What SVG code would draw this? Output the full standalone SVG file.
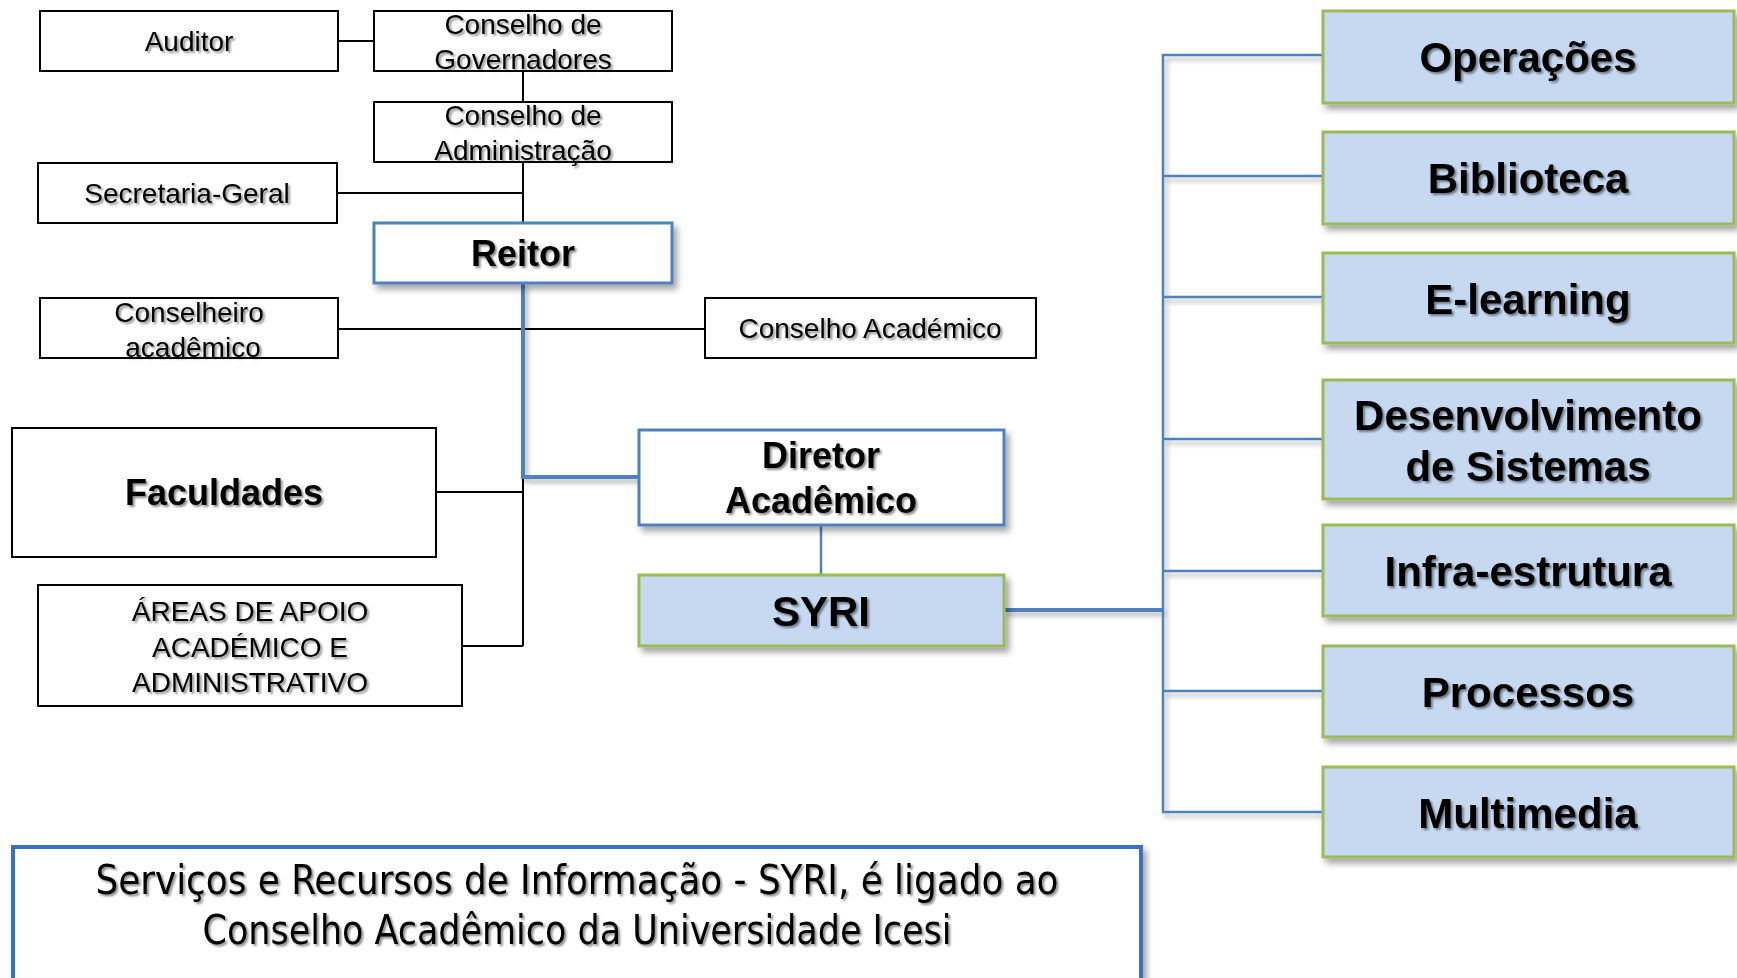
<svg xmlns="http://www.w3.org/2000/svg" width="1737" height="978" viewBox="0 0 1737 978">
<defs>
<filter id="ts" x="-10%" y="-30%" width="130%" height="170%"><feDropShadow dx="2" dy="2" stdDeviation="1.2" flood-color="#000" flood-opacity="0.45"/></filter>
<filter id="bs" x="-10%" y="-20%" width="130%" height="150%"><feDropShadow dx="4" dy="5" stdDeviation="3" flood-color="#000" flood-opacity="0.35"/></filter>
<filter id="ls" x="-5%" y="-50%" width="120%" height="300%"><feDropShadow dx="3" dy="4" stdDeviation="2.5" flood-color="#000" flood-opacity="0.3"/></filter>
</defs>
<style>
.bx{fill:#fff;stroke:#000;stroke-width:2}
.bb{fill:#fff;stroke:#4f81bd;stroke-width:3}
.gb{fill:#c6d9f1;stroke:#9bbb59;stroke-width:3}
.t{font-family:"Liberation Sans Narrow","Liberation Sans",Arial,sans-serif;font-size:28px;fill:#000;text-anchor:middle}
.tb{font-family:"Liberation Sans Narrow","Liberation Sans",Arial,sans-serif;font-weight:bold;font-size:36px;fill:#000;text-anchor:middle}
.tr{font-family:"Liberation Sans Narrow","Liberation Sans",Arial,sans-serif;font-weight:bold;font-size:42px;fill:#000;text-anchor:middle}
.bl{stroke:#000;stroke-width:2;fill:none}
.blu{stroke:#4f81bd;stroke-width:2.5;fill:none}
.note{font-family:"DejaVu Sans Condensed","DejaVu Sans",Tahoma,sans-serif;font-size:40px;fill:#000;text-anchor:middle}
</style>
<g id="connectors">
<line class="bl" x1="338" y1="41" x2="374" y2="41"/>
<line class="bl" x1="523" y1="71" x2="523" y2="223"/>
<line class="bl" x1="337" y1="193" x2="523" y2="193"/>
<line class="bl" x1="338" y1="329" x2="705" y2="329"/>
<line class="bl" x1="436" y1="492" x2="523" y2="492"/>
<line class="bl" x1="523" y1="477" x2="523" y2="646"/>
<line class="bl" x1="462" y1="646" x2="523" y2="646"/>
<path d="M523 283 V477 H639" stroke="#4f81bd" stroke-width="4" fill="none" filter="url(#ls)"/>
<line class="blu" x1="821" y1="525" x2="821" y2="575"/>
<g filter="url(#ls)">
<path d="M1004 610 H1163" stroke="#4f81bd" stroke-width="4" fill="none"/>
<path class="blu" d="M1323 55 H1163 V812 H1323"/>
<line class="blu" x1="1163" y1="176" x2="1323" y2="176"/>
<line class="blu" x1="1163" y1="297" x2="1323" y2="297"/>
<line class="blu" x1="1163" y1="439" x2="1323" y2="439"/>
<line class="blu" x1="1163" y1="571" x2="1323" y2="571"/>
<line class="blu" x1="1163" y1="691" x2="1323" y2="691"/>
</g>
</g>
<g id="auditor"><rect class="bx" x="40" y="11" width="298" height="60"/><text class="t" x="189" y="51" filter="url(#ts)">Auditor</text></g>
<g id="conselho-governadores"><rect class="bx" x="374" y="11" width="298" height="60"/><text class="t" x="523" y="34" filter="url(#ts)">Conselho de</text><text class="t" x="523" y="69" filter="url(#ts)">Governadores</text></g>
<g id="conselho-administracao"><rect class="bx" x="374" y="102" width="298" height="60"/><text class="t" x="523" y="125" filter="url(#ts)">Conselho de</text><text class="t" x="523" y="160" filter="url(#ts)">Administração</text></g>
<g id="secretaria-geral"><rect class="bx" x="38" y="163" width="299" height="60"/><text class="t" x="187" y="203" filter="url(#ts)">Secretaria-Geral</text></g>
<g id="reitor"><rect class="bb" x="374" y="223" width="298" height="60" filter="url(#bs)"/><text class="tb" x="523" y="266" filter="url(#ts)">Reitor</text></g>
<g id="conselheiro-academico"><rect class="bx" x="40" y="298" width="298" height="60"/><text class="t" x="189" y="322" filter="url(#ts)">Conselheiro</text><text class="t" x="193" y="357" filter="url(#ts)">acadêmico</text></g>
<g id="conselho-academico"><rect class="bx" x="705" y="298" width="331" height="60"/><text class="t" x="870" y="338" filter="url(#ts)">Conselho Académico</text></g>
<g id="faculdades"><rect class="bx" x="12" y="428" width="424" height="129"/><text class="tb" x="224" y="505" filter="url(#ts)">Faculdades</text></g>
<g id="areas-apoio"><rect class="bx" x="38" y="585" width="424" height="121"/><text class="t" x="250" y="621" filter="url(#ts)">ÁREAS DE APOIO</text><text class="t" x="250" y="657" filter="url(#ts)">ACADÉMICO E</text><text class="t" x="250" y="692" filter="url(#ts)">ADMINISTRATIVO</text></g>
<g id="diretor-academico"><rect class="bb" x="639" y="430" width="365" height="95" filter="url(#bs)"/><text class="tb" x="821" y="468" filter="url(#ts)">Diretor</text><text class="tb" x="821" y="513" filter="url(#ts)">Acadêmico</text></g>
<g id="syri"><rect class="gb" x="639" y="575" width="365" height="71" filter="url(#bs)"/><text class="tr" x="821" y="626" filter="url(#ts)">SYRI</text></g>
<g id="operacoes"><rect class="gb" x="1323" y="11" width="411" height="92" filter="url(#bs)"/><text class="tr" x="1528" y="72" filter="url(#ts)">Operações</text></g>
<g id="biblioteca"><rect class="gb" x="1323" y="132" width="411" height="92" filter="url(#bs)"/><text class="tr" x="1528" y="193" filter="url(#ts)">Biblioteca</text></g>
<g id="e-learning"><rect class="gb" x="1323" y="253" width="411" height="90" filter="url(#bs)"/><text class="tr" x="1528" y="314" filter="url(#ts)">E-learning</text></g>
<g id="desenvolvimento"><rect class="gb" x="1323" y="380" width="411" height="119" filter="url(#bs)"/><text class="tr" x="1528" y="430" filter="url(#ts)">Desenvolvimento</text><text class="tr" x="1528" y="481" filter="url(#ts)">de Sistemas</text></g>
<g id="infra-estrutura"><rect class="gb" x="1323" y="525" width="411" height="91" filter="url(#bs)"/><text class="tr" x="1528" y="586" filter="url(#ts)">Infra-estrutura</text></g>
<g id="processos"><rect class="gb" x="1323" y="646" width="411" height="91" filter="url(#bs)"/><text class="tr" x="1528" y="707" filter="url(#ts)">Processos</text></g>
<g id="multimedia"><rect class="gb" x="1323" y="767" width="411" height="90" filter="url(#bs)"/><text class="tr" x="1528" y="828" filter="url(#ts)">Multimedia</text></g>
<g id="nota"><rect x="13" y="847" width="1128" height="140" fill="#fff" stroke="#3b6fc6" stroke-width="4" filter="url(#bs)"/><text class="note" x="577" y="894" textLength="963" lengthAdjust="spacingAndGlyphs" filter="url(#ts)">Serviços e Recursos de Informação - SYRI, é ligado ao</text><text class="note" x="577" y="944" textLength="749" lengthAdjust="spacingAndGlyphs" filter="url(#ts)">Conselho Acadêmico da Universidade Icesi</text></g>
</svg>
